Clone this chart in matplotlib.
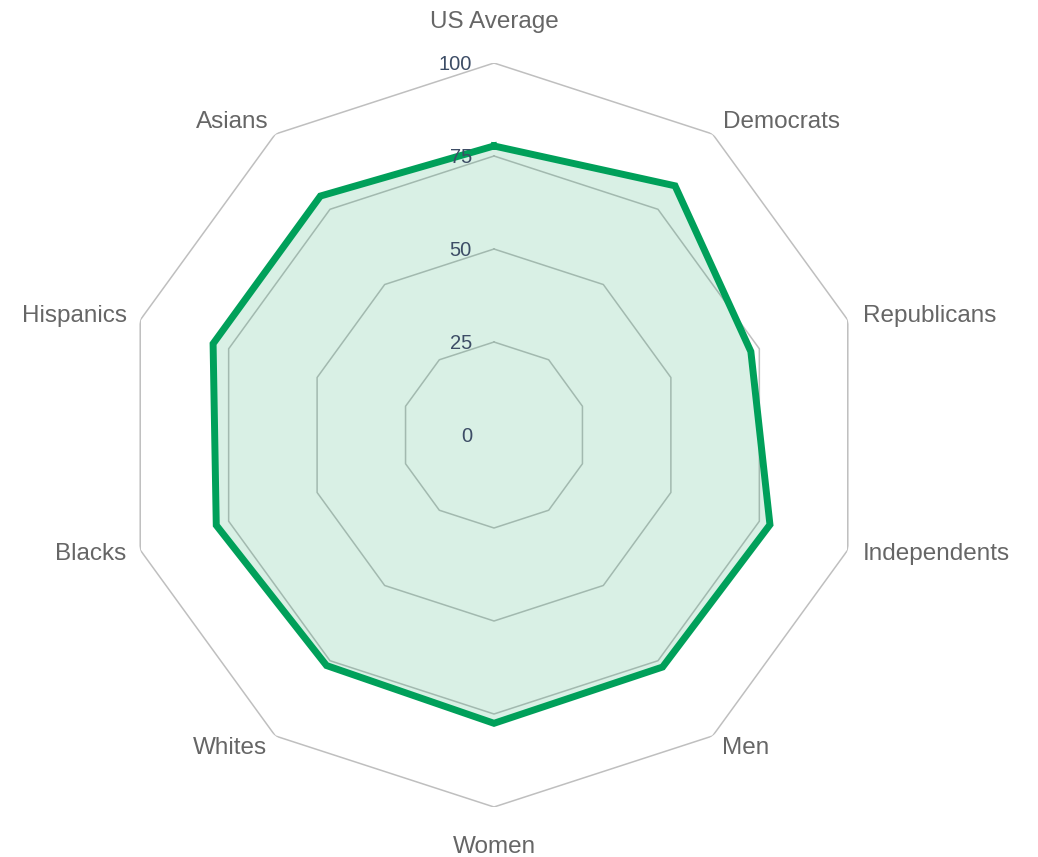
import numpy as np
import matplotlib
matplotlib.use('Agg')
import matplotlib.pyplot as plt

categories = ['US Average', 'Democrats', 'Republicans', 'Independents', 'Men',
              'Women', 'Whites', 'Blacks', 'Hispanics', 'Asians']
values = [77.7, 82.8, 72.6, 78.0, 77.1, 77.5, 76.6, 78.5, 79.4, 79.4]
rings = [0, 25, 50, 75, 100]

plt.rcParams['font.family'] = ['Liberation Sans', 'DejaVu Sans']

fig = plt.figure(figsize=(10.38, 8.57), dpi=100)
ax = fig.add_axes([0.11753, 0.05834, 0.71676, 0.86814], projection='polar')
ax.set_theta_zero_location('N')
ax.set_theta_direction(-1)
ax.set_ylim(0, 100)
ax.grid(False)
ax.set_xticks([])
ax.set_yticks([])
ax.spines['polar'].set_visible(False)
ax.patch.set_alpha(0)

n = len(categories)
angles = np.linspace(0, 2 * np.pi, n, endpoint=False)
closed = np.append(angles, angles[0])

# polygon grid
for r in rings[1:]:
    ax.plot(closed, [r] * (n + 1), color='#bfbfbf', lw=1.1, zorder=1)

# series
vals = values + values[:1]
ax.fill(closed, vals, color='#009b55', alpha=0.15, lw=0, zorder=2)
ax.plot(closed, vals, color='#00a05a', lw=5, zorder=3, solid_joinstyle='miter')

# ring labels
for r in rings:
    ax.annotate(str(r), xy=(0, r), xytext=(-22, -1), textcoords='offset pixels',
                ha='right', va='center', fontsize=14.5, color='#3d4d66', zorder=4)

# category labels
offsets = [(0, 41, 'center'), (10, 12, 'left'), (15, 4, 'left'), (15, -4, 'left'),
           (9, -12, 'left'), (0, -40, 'center'), (-8, -12, 'right'),
           (-14, -4, 'right'), (-13, 4, 'right'), (-7, 12, 'right')]
for a, lab, (dx, dy, ha) in zip(angles, categories, offsets):
    ax.annotate(lab, xy=(a, 100), xytext=(dx, dy), textcoords='offset pixels',
                ha=ha, va='center', fontsize=17.5, color='#666666',
                annotation_clip=False)

fig.savefig('out.png', dpi=100)
